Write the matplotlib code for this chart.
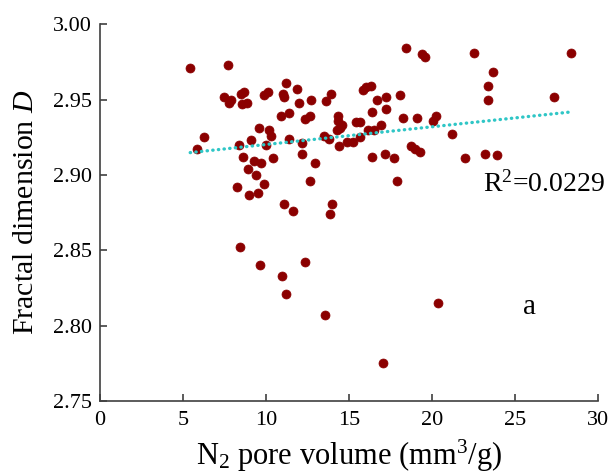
import numpy as np
import matplotlib
matplotlib.use("Agg")
import matplotlib.pyplot as plt

plt.rcParams["font.family"] = ["Liberation Serif", "DejaVu Serif"]
plt.rcParams["mathtext.fontset"] = "custom"
plt.rcParams["mathtext.rm"] = "Liberation Serif"
plt.rcParams["mathtext.it"] = "Liberation Serif:italic"

# N2 pore volume (mm3/g) and fractal dimension D for each sample
pore_volume = [
    5.44, 7.73, 7.49, 7.90, 7.79, 8.50, 8.70, 8.56, 8.84, 6.28,
    5.82, 8.37, 8.64, 8.94, 9.41, 8.23, 9.00, 9.52, 9.31, 9.70,
    9.88, 9.61, 10.18, 9.09, 10.31, 10.01, 10.45, 9.91, 10.12, 11.21,
    11.87, 11.02, 11.06, 12.02, 12.69, 10.91, 11.38, 12.33, 12.65, 11.38,
    12.15, 12.19, 12.94, 12.66, 11.06, 11.61, 13.60, 13.90, 15.85, 16.01,
    16.30, 16.66, 17.22, 18.07, 16.37, 17.24, 18.23, 19.12, 14.32, 14.32,
    14.56, 14.28, 14.47, 15.43, 15.69, 13.50, 13.78, 14.38, 14.88, 15.24,
    15.69, 16.15, 16.53, 16.91, 18.73, 19.00, 19.27, 16.37, 17.16, 17.72,
    17.89, 14.00, 13.84, 18.43, 19.38, 19.58, 22.54, 28.40, 23.67, 23.37,
    23.37, 27.37, 20.08, 20.24, 21.23, 21.99, 23.20, 23.91, 8.46, 9.65,
    10.94, 12.37, 11.18, 13.55, 20.38, 17.06,
]
fractal_d = [
    2.971, 2.973, 2.952, 2.950, 2.948, 2.954, 2.955, 2.947, 2.948, 2.925,
    2.917, 2.920, 2.912, 2.904, 2.900, 2.892, 2.887, 2.888, 2.909, 2.908,
    2.894, 2.931, 2.930, 2.923, 2.926, 2.920, 2.911, 2.953, 2.955, 2.961,
    2.957, 2.954, 2.952, 2.948, 2.950, 2.939, 2.941, 2.937, 2.939, 2.924,
    2.921, 2.914, 2.908, 2.896, 2.881, 2.876, 2.949, 2.954, 2.956, 2.958,
    2.959, 2.950, 2.952, 2.953, 2.942, 2.944, 2.938, 2.938, 2.939, 2.936,
    2.933, 2.930, 2.931, 2.935, 2.935, 2.926, 2.924, 2.919, 2.922, 2.922,
    2.925, 2.930, 2.930, 2.933, 2.919, 2.917, 2.915, 2.912, 2.914, 2.911,
    2.896, 2.881, 2.874, 2.984, 2.980, 2.978, 2.981, 2.981, 2.968, 2.959,
    2.950, 2.952, 2.936, 2.939, 2.927, 2.911, 2.914, 2.913, 2.852, 2.840,
    2.833, 2.842, 2.821, 2.807, 2.815, 2.775,
]

# linear trendline
fit_slope = 0.001176
fit_intercept = 2.9084
r_squared = 0.0229

x_ticks = [0, 5, 10, 15, 20, 25, 30]
y_ticks = [2.75, 2.80, 2.85, 2.90, 2.95, 3.00]

fig = plt.figure(figsize=(6.09, 4.74), dpi=100)
ax = fig.add_axes([0.164, 0.154, 0.818, 0.795])

ax.scatter(pore_volume, fractal_d, s=42, color="#8b0000", edgecolors="#8b0000",
           linewidths=0.5, zorder=3)

xf = np.array([min(pore_volume), max(pore_volume)])
ax.plot(xf, fit_intercept + fit_slope * xf, color="#2fc6c6", lw=2.4,
        linestyle=(0, (0.1, 1.6)), dash_capstyle="round", zorder=4)

ax.text(23.08, 2.8888, f"R$^2$={r_squared}", fontsize=20, ha="left",
        va="baseline")
ax.text(25.9, 2.8125, "a", fontsize=21, ha="center", va="center")

ax.set_xlim(0, 30)
ax.set_ylim(2.75, 3.00)
ax.set_xticks(x_ticks)
ax.set_yticks(y_ticks)
ax.set_yticklabels([f"{v:.2f}" for v in y_ticks])

for side in ["top", "right"]:
    ax.spines[side].set_visible(False)
for side in ["left", "bottom"]:
    ax.spines[side].set_color("#404040")
    ax.spines[side].set_linewidth(1.2)

ax.tick_params(axis="both", direction="in", length=5, width=1.2,
               color="#404040", labelsize=16)
ax.tick_params(axis="y", pad=6)
ax.tick_params(axis="x", pad=7)

ax.set_xlabel("N$_2$ pore volume (mm$^3$/g)", fontsize=22, labelpad=6)
ax.set_ylabel("Fractal dimension $D$", fontsize=21.5, labelpad=10)

fig.savefig("out.png", dpi=100)
